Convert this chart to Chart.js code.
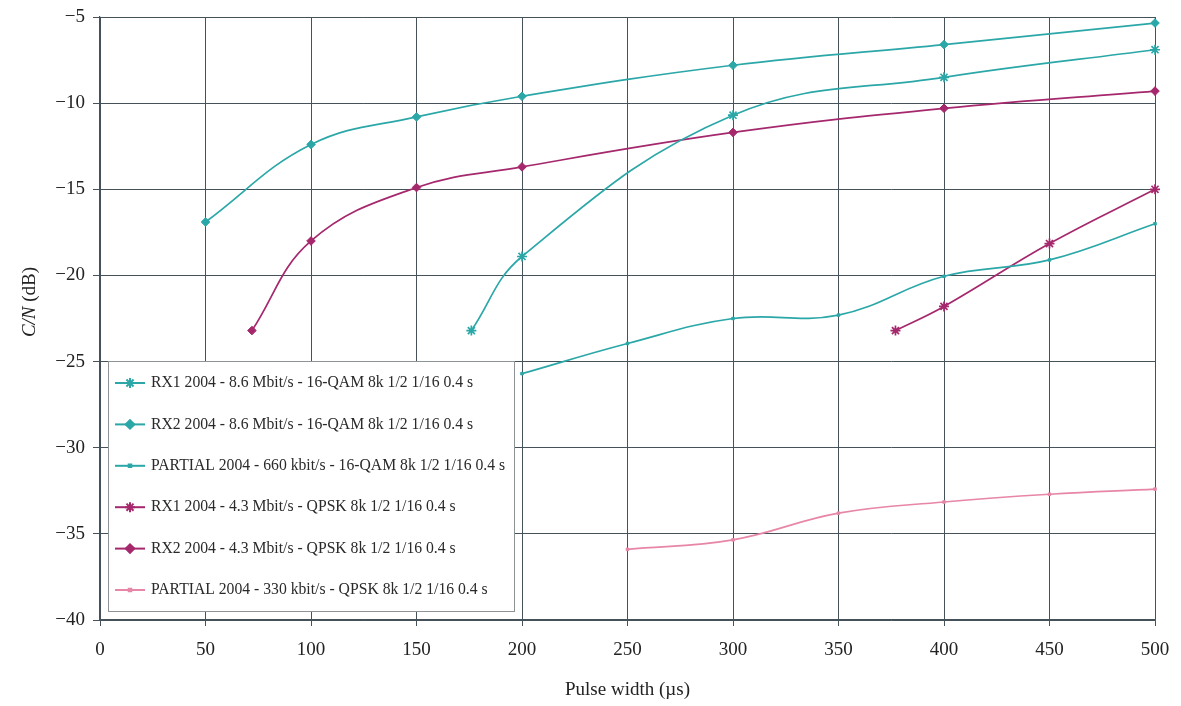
<!DOCTYPE html>
<html lang="en">
<head>
  <meta charset="UTF-8" />
  <title>C/N vs pulse width</title>
  <script src="https://cdn.jsdelivr.net/npm/chart.js"></script>
  <style>
    html, body { margin: 0; padding: 0; background: #fff; }
    #wrap { width: 1181px; height: 706px; position: relative; }
  </style>
</head>
<body>
  <div id="wrap"><canvas id="cnChart"></canvas></div>

  <script>
    // values
    const seriesNames = [
      'RX1 2004 - 8.6 Mbit/s - 16-QAM 8k 1/2 1/16 0.4 s',
      'RX2 2004 - 8.6 Mbit/s - 16-QAM 8k 1/2 1/16 0.4 s',
      'PARTIAL 2004 - 660 kbit/s - 16-QAM 8k 1/2 1/16 0.4 s',
      'RX1 2004 - 4.3 Mbit/s - QPSK 8k 1/2 1/16 0.4 s',
      'RX2 2004 - 4.3 Mbit/s - QPSK 8k 1/2 1/16 0.4 s',
      'PARTIAL 2004 - 330 kbit/s - QPSK 8k 1/2 1/16 0.4 s'
    ];

    const rx1QamX = [176, 200, 300, 400, 500];
    const rx1QamY = [-23.2, -18.9, -10.7, -8.5, -6.9];

    const rx2QamX = [50, 100, 150, 200, 300, 400, 500];
    const rx2QamY = [-16.9, -12.4, -10.8, -9.6, -7.8, -6.6, -5.35];

    const partQamX = [200, 250, 300, 350, 400, 450, 500];
    const partQamY = [-25.7, -23.95, -22.5, -22.3, -20.05, -19.1, -17.0];

    const rx1QpskX = [377, 400, 450, 500];
    const rx1QpskY = [-23.2, -21.8, -18.15, -15.0];

    const rx2QpskX = [72, 100, 150, 200, 300, 400, 500];
    const rx2QpskY = [-23.2, -18.0, -14.9, -13.7, -11.7, -10.3, -9.3];

    const partQpskX = [250, 300, 350, 400, 450, 500];
    const partQpskY = [-35.9, -35.35, -33.8, -33.15, -32.7, -32.4];

    const xTicks = [0, 50, 100, 150, 200, 250, 300, 350, 400, 450, 500];
    const yTicks = [-40, -35, -30, -25, -20, -15, -10, -5];

    const TEAL = '#2ba7a8';
    const MAGENTA = '#a5286d';
    const PINK = '#e786a6';
    const SERIF = '"Liberation Serif", "DejaVu Serif", serif';

    function toPoints(xs, ys) {
      return xs.map((x, i) => ({ x: x, y: ys[i] }));
    }

    function makeSet(i, xs, ys, color, style, radius) {
      return {
        label: seriesNames[i],
        data: toPoints(xs, ys),
        showLine: true,
        borderColor: color,
        backgroundColor: color,
        borderWidth: 1.7,
        pointStyle: style,
        pointRadius: radius,
        pointBorderWidth: style === 'star' ? 1.7 : 1,
        pointBorderColor: color,
        pointBackgroundColor: color,
        tension: 0.4,
        clip: false
      };
    }

    const datasets = [
      makeSet(0, rx1QamX, rx1QamY, TEAL, 'star', 5),
      makeSet(1, rx2QamX, rx2QamY, TEAL, 'rectRot', 4.3),
      makeSet(2, partQamX, partQamY, TEAL, 'rect', 1.8),
      makeSet(3, rx1QpskX, rx1QpskY, MAGENTA, 'star', 5),
      makeSet(4, rx2QpskX, rx2QpskY, MAGENTA, 'rectRot', 4.3),
      makeSet(5, partQpskX, partQpskY, PINK, 'rect', 1.8)
    ];

    // legend box inside the plot plus the two axis titles
    const decorations = {
      id: 'decorations',
      afterDraw(chart) {
        const ctx = chart.ctx;
        const area = chart.chartArea;
        ctx.save();

        // legend
        const bx = area.left + 8, by = 361, bw = 406, bh = 250;
        ctx.fillStyle = '#fff';
        ctx.fillRect(bx, by, bw, bh);
        ctx.strokeStyle = '#8e9396';
        ctx.lineWidth = 1;
        ctx.strokeRect(bx + 0.5, by + 0.5, bw, bh);

        ctx.textBaseline = 'middle';
        ctx.textAlign = 'left';
        chart.data.datasets.forEach((ds, i) => {
          const y = by + 22 + i * 41.4;
          ctx.strokeStyle = ds.borderColor;
          ctx.fillStyle = ds.borderColor;
          ctx.lineWidth = 2;
          ctx.beginPath();
          ctx.moveTo(bx + 7, y);
          ctx.lineTo(bx + 37, y);
          ctx.stroke();
          Chart.helpers.drawPoint(ctx, {
            pointStyle: ds.pointStyle,
            radius: ds.pointRadius,
            rotation: 0,
            borderWidth: ds.pointBorderWidth
          }, bx + 22, y);
          ctx.font = '15.7px ' + SERIF;
          ctx.fillStyle = '#2a2a2a';
          ctx.fillText(ds.label, bx + 43, y);
        });

        // x title
        ctx.fillStyle = '#222';
        ctx.font = '19px ' + SERIF;
        ctx.textAlign = 'center';
        ctx.textBaseline = 'middle';
        ctx.fillText('Pulse width (\u00b5s)', (area.left + area.right) / 2, 690);

        // y title, "C/N" in italic
        ctx.translate(30, 302);
        ctx.rotate(-Math.PI / 2);
        const italic = 'italic 19px ' + SERIF;
        const normal = '19px ' + SERIF;
        ctx.font = italic;
        const w1 = ctx.measureText('C/N').width;
        ctx.font = normal;
        const w2 = ctx.measureText(' (dB)').width;
        const start = -(w1 + w2) / 2;
        ctx.textAlign = 'left';
        ctx.font = italic;
        ctx.fillText('C/N', start, 0);
        ctx.font = normal;
        ctx.fillText(' (dB)', start + w1, 0);

        ctx.restore();
      }
    };

    const gridColor = '#45525a';

    new Chart(document.getElementById('cnChart'), {
      type: 'scatter',
      data: { datasets: datasets },
      options: {
        responsive: true,
        maintainAspectRatio: false,
        animation: false,
        layout: { padding: { top: 17, right: 26, left: 0, bottom: 0 } },
        scales: {
          x: {
            type: 'linear',
            min: 0,
            max: 500,
            afterFit(scale) {
              scale.height = 86;
              scale.paddingLeft = 0;
              scale.paddingRight = 0;
            },
            afterBuildTicks(scale) { scale.ticks = xTicks.map(v => ({ value: v })); },
            grid: { color: gridColor, lineWidth: 1, tickLength: 6, drawTicks: true },
            border: { color: gridColor, width: 1.2 },
            ticks: {
              color: '#222',
              padding: 13,
              maxRotation: 0,
              font: { family: SERIF, size: 19 }
            }
          },
          y: {
            type: 'linear',
            min: -40,
            max: -5,
            afterFit(scale) {
              scale.width = 100;
              scale.paddingTop = 0;
              scale.paddingBottom = 0;
            },
            afterBuildTicks(scale) { scale.ticks = yTicks.map(v => ({ value: v })); },
            grid: { color: gridColor, lineWidth: 1, tickLength: 7, drawTicks: true },
            border: { color: gridColor, width: 1.2 },
            ticks: {
              color: '#222',
              padding: 8,
              font: { family: SERIF, size: 19 },
              callback: v => String(v).replace('-', '\u2212')
            }
          }
        },
        plugins: {
          legend: { display: false },
          tooltip: { enabled: false }
        }
      },
      plugins: [decorations]
    });
  </script>
</body>
</html>
